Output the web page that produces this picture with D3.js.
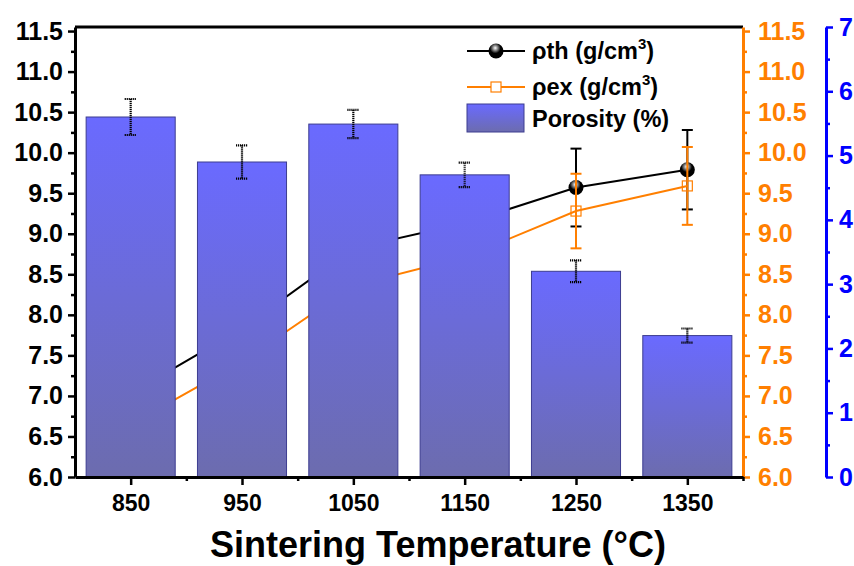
<!DOCTYPE html>
<html>
<head>
<meta charset="utf-8">
<script src="https://cdn.jsdelivr.net/npm/d3@7"></script>
<style>
  body { margin: 0; background: #fff; }
  svg { display: block; font-family: "Liberation Sans", Arial, sans-serif; font-weight: bold; }
</style>
</head>
<body>
<div class="wrapper"></div>
<script>
const temps = [850, 950, 1050, 1150, 1250, 1350]
const rhoTh = [7.03, 7.83, 8.82, 9.13, 9.57, 9.79]
const rhoThErr = [0.3, 0.3, 0.4, 0.45, 0.48, 0.49]
const rhoEx = [6.65, 7.42, 8.36, 8.71, 9.28, 9.59]
const rhoExErr = [0.3, 0.3, 0.4, 0.45, 0.46, 0.48]
const porosity = [5.6, 4.9, 5.49, 4.7, 3.2, 2.2]
const porosityErr = [0.28, 0.26, 0.22, 0.19, 0.17, 0.11]
const densTicks = [6.0, 6.5, 7.0, 7.5, 8.0, 8.5, 9.0, 9.5, 10.0, 10.5, 11.0, 11.5]
const poroTicks = [0, 1, 2, 3, 4, 5, 6, 7]

const W = 854, H = 566
const orange = '#ff7f00', blue = '#0000ff'

const x = d3.scaleLinear().domain([800, 1400]).range([75, 743])
const yL = d3.scaleLinear().domain([6, 11.55]).range([477, 27])
const yB = d3.scaleLinear().domain([0, 7]).range([477, 27])
const barW = x(890) - x(810)

const svg = d3.select('.wrapper').append('svg')
  .attr('width', W).attr('height', H)

const defs = svg.append('defs')
const bg = defs.append('linearGradient').attr('id', 'barGrad')
  .attr('x1', 0).attr('y1', 0).attr('x2', 0).attr('y2', 1)
bg.append('stop').attr('offset', '0%').attr('stop-color', '#6a6aff')
bg.append('stop').attr('offset', '100%').attr('stop-color', '#6c6cae')

const sg = defs.append('radialGradient').attr('id', 'ball')
  .attr('cx', 0.45).attr('cy', 0.3).attr('r', 0.65)
sg.append('stop').attr('offset', '0%').attr('stop-color', '#ffffff')
sg.append('stop').attr('offset', '25%').attr('stop-color', '#8a8a8a')
sg.append('stop').attr('offset', '55%').attr('stop-color', '#000000')
sg.append('stop').attr('offset', '100%').attr('stop-color', '#000000')

function ball(g, cx, cy) {
  g.append('circle').attr('cx', cx).attr('cy', cy).attr('r', 7.5).attr('fill', 'url(#ball)')
}
function square(g, cx, cy) {
  g.append('rect').attr('x', cx - 5).attr('y', cy - 5).attr('width', 10).attr('height', 10)
    .attr('fill', 'none').attr('stroke', orange).attr('stroke-width', 1.2)
}

// density series (drawn under the bars)
function series(vals, errs, color, marker) {
  const g = svg.append('g')
  g.append('path')
    .datum(temps.map((t, i) => [t, vals[i]]))
    .attr('fill', 'none').attr('stroke', color).attr('stroke-width', 2)
    .attr('d', d3.line().x(d => x(d[0])).y(d => yL(d[1])))
  const e = g.selectAll('.err').data(temps).enter().append('g')
  e.append('line')
    .attr('x1', d => x(d)).attr('x2', d => x(d))
    .attr('y1', (d, i) => yL(vals[i] + errs[i])).attr('y2', (d, i) => yL(vals[i] - errs[i]))
    .attr('stroke', color).attr('stroke-width', 2)
  ;[1, -1].forEach(s => {
    e.append('line')
      .attr('x1', d => x(d) - 5.5).attr('x2', d => x(d) + 5.5)
      .attr('y1', (d, i) => yL(vals[i] + s * errs[i])).attr('y2', (d, i) => yL(vals[i] + s * errs[i]))
      .attr('stroke', color).attr('stroke-width', 2)
  })
  temps.forEach((d, i) => marker(g, x(d), yL(vals[i])))
}

series(rhoTh, rhoThErr, '#000', ball)
series(rhoEx, rhoExErr, orange, square)

// porosity bars
svg.append('g').selectAll('rect').data(temps).enter().append('rect')
  .attr('x', d => x(d) - barW / 2)
  .attr('width', barW)
  .attr('y', (d, i) => yB(porosity[i]))
  .attr('height', (d, i) => yB(0) - yB(porosity[i]))
  .attr('fill', 'url(#barGrad)')
  .attr('stroke', '#3c3c90').attr('stroke-width', 1)

const pe = svg.append('g').selectAll('g').data(temps).enter().append('g')
pe.append('line')
  .attr('x1', d => x(d)).attr('x2', d => x(d))
  .attr('y1', (d, i) => yB(porosity[i] + porosityErr[i]))
  .attr('y2', (d, i) => yB(porosity[i] - porosityErr[i]))
  .attr('stroke', '#000').attr('stroke-width', 2.2).attr('stroke-dasharray', '1.2,0.8')
;[1, -1].forEach(s => {
  pe.append('line')
    .attr('x1', d => x(d) - 6).attr('x2', d => x(d) + 6)
    .attr('y1', (d, i) => yB(porosity[i] + s * porosityErr[i]))
    .attr('y2', (d, i) => yB(porosity[i] + s * porosityErr[i]))
    .attr('stroke', '#000').attr('stroke-width', 2.2).attr('stroke-dasharray', '1.2,0.8')
})

// frame top
svg.append('line').attr('x1', 75).attr('x2', 743).attr('y1', 27).attr('y2', 27)
  .attr('stroke', '#000').attr('stroke-width', 3)

function styleAxis(g, color, size) {
  g.select('.domain').attr('stroke', color).attr('stroke-width', 3)
  g.selectAll('.tick line').attr('stroke', color).attr('stroke-width', 2.5)
  g.selectAll('.tick text').attr('fill', color).style('font-size', size + 'px')
    .style('font-weight', 'bold').style('font-family', '"Liberation Sans", Arial, sans-serif')
}

const minorD = d3.range(6.25, 11.5, 0.5)

// left axis
const gl = svg.append('g').attr('transform', 'translate(75,0)')
gl.call(d3.axisLeft(yL).tickValues(densTicks).tickFormat(d3.format('.1f')).tickSize(7).tickSizeOuter(0).tickPadding(5))
styleAxis(gl, '#000', 25)
gl.append('g').call(d3.axisLeft(yL).tickValues(minorD).tickFormat('').tickSize(4))
  .call(g => g.select('.domain').remove())
  .selectAll('line').attr('stroke', '#000').attr('stroke-width', 2.5)

// orange right axis
const gr = svg.append('g').attr('transform', 'translate(743,0)')
gr.call(d3.axisRight(yL).tickValues(densTicks).tickFormat(d3.format('.1f')).tickSize(7).tickSizeOuter(0).tickPadding(8))
styleAxis(gr, orange, 25)
gr.append('g').call(d3.axisRight(yL).tickValues(minorD).tickFormat('').tickSize(4))
  .call(g => g.select('.domain').remove())
  .selectAll('line').attr('stroke', orange).attr('stroke-width', 2.5)

// blue axis
const gb = svg.append('g').attr('transform', 'translate(826,0)')
gb.call(d3.axisRight(yB).tickValues(poroTicks).tickFormat(d3.format('d')).tickSize(7).tickSizeOuter(0).tickPadding(6))
styleAxis(gb, blue, 25)
gb.append('g').call(d3.axisRight(yB).tickValues(d3.range(0.5, 7, 1)).tickFormat('').tickSize(4))
  .call(g => g.select('.domain').remove())
  .selectAll('line').attr('stroke', blue).attr('stroke-width', 2.5)

// bottom axis
const gx = svg.append('g').attr('transform', 'translate(0,477)')
gx.call(d3.axisBottom(x).tickValues(temps).tickFormat(d3.format('d')).tickSize(8).tickSizeOuter(0).tickPadding(10))
styleAxis(gx, '#000', 23)
gx.append('g').call(d3.axisBottom(x).tickValues(d3.range(900, 1401, 100)).tickFormat('').tickSize(4))
  .call(g => g.select('.domain').remove())
  .selectAll('line').attr('stroke', '#000').attr('stroke-width', 2.5)

svg.append('text').attr('x', 438).attr('y', 557).attr('text-anchor', 'middle')
  .style('font-size', '36px').text('Sintering Temperature (°C)')

// legend
const lg = svg.append('g').style('font-size', '23.5px')
lg.append('line').attr('x1', 467).attr('x2', 525).attr('y1', 51).attr('y2', 51).attr('stroke', '#000').attr('stroke-width', 2)
ball(lg, 496, 51)
lg.append('line').attr('x1', 467).attr('x2', 525).attr('y1', 87).attr('y2', 87).attr('stroke', orange).attr('stroke-width', 2)
lg.append('rect').attr('x', 491).attr('y', 82).attr('width', 10).attr('height', 10).attr('fill', '#fff').attr('stroke', orange).attr('stroke-width', 1.2)
lg.append('rect').attr('x', 467).attr('y', 104).attr('width', 57).attr('height', 28)
  .attr('fill', 'url(#barGrad)').attr('stroke', '#3c3c90')

const t1 = lg.append('text').attr('x', 532).attr('y', 59)
t1.append('tspan').text('ρth (g/cm')
t1.append('tspan').attr('dy', -10).style('font-size', '15px').text('3')
t1.append('tspan').attr('dy', 10).text(')')
const t2 = lg.append('text').attr('x', 532).attr('y', 95)
t2.append('tspan').text('ρex (g/cm')
t2.append('tspan').attr('dy', -10).style('font-size', '15px').text('3')
t2.append('tspan').attr('dy', 10).text(')')
lg.append('text').attr('x', 532).attr('y', 127).text('Porosity (%)')
</script>
</body>
</html>
